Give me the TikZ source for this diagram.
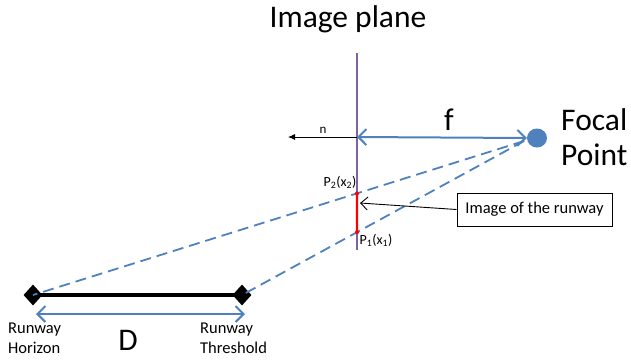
\documentclass[tikz,border=0pt]{standalone}
\usepackage{fontspec}
\setmainfont{Carlito}
\usetikzlibrary{arrows.meta,positioning,shapes.geometric}
\definecolor{offblue}{RGB}{79,129,189}
\definecolor{offpurple}{RGB}{128,100,162}

\begin{document}
\begin{tikzpicture}[x=1pt,y=-1pt,
  bigtext/.style={font=\fontsize{31.5}{35}\selectfont, inner sep=0pt},
  smalltext/.style={font=\fontsize{16.5}{20}\selectfont, align=left, inner sep=0pt},
  tinytext/.style={font=\fontsize{14}{16}\selectfont, inner sep=0pt},
  dimarrow/.style={offblue, line width=2pt, {Straight Barb[length=8pt,width=16pt]}-{Straight Barb[length=8pt,width=16pt]}},
  ray/.style={offblue, dash pattern=on 11pt off 6pt, line width=1.8pt},
  endmark/.style={diamond, fill=black, minimum width=19pt, minimum height=21pt, inner sep=0pt}]

\useasboundingbox (0,0) rectangle (631,360);

% draw image plane
\draw[offpurple, line width=1.6pt] (357,53) coordinate (ptop) -- (357,250) coordinate (pbot);
\node[bigtext] (plane) at (348,19) {Image plane};

% draw focal point and focal length
\node[ellipse, fill=offblue, minimum width=20pt, minimum height=19pt, inner sep=0pt] (focal) at (537,138) {};
\coordinate (fplane) at (357,137);
\coordinate (ray0) at (524,141);
\draw[dimarrow] (fplane) -- (focal.west);
\node[bigtext] (flabel) at (449,120) {f};
\node[bigtext, align=left, anchor=west] (focaltext) at (561,137) {Focal\\Point};

% draw normal
\draw[-{Latex[length=7pt,width=6pt]}, line width=0.9pt] (fplane) -- (288,137) coordinate (ntip);
\node[font=\fontsize{13}{15}\selectfont, inner sep=0pt] (nlabel) at (323,130) {n};

% draw runway
\node[endmark] (horizon) at (33,295) {};
\node[endmark] (threshold) at (242,295) {};
\draw[line width=4.5pt] (horizon.center) -- (threshold.center);

% draw rays through the image plane
\draw[ray] (ray0) -- (horizon.center);
\draw[ray] (ray0) -- (threshold.center);
\coordinate (p2) at (intersection of ray0--horizon and ptop--pbot);
\coordinate (p1) at (intersection of ray0--threshold and ptop--pbot);

% draw image of the runway
\draw[red, line width=2.2pt] (p2) -- (p1);
\fill[red] (p2) circle (2pt) (p1) circle (2pt);
\node[tinytext] (p2label) at (340,182) {P\textsubscript{2}(x\textsubscript{2})};
\node[tinytext] (p1label) at (376,240) {P\textsubscript{1}(x\textsubscript{1})};
\node[draw, line width=1pt, minimum width=155pt, minimum height=33pt, font=\fontsize{16.5}{20}\selectfont] (imgbox) at (534.5,209.5) {Image of the runway};
\coordinate (imgpt) at (360,203);
\draw[-{Straight Barb[length=7pt,width=13pt]}, line width=0.9pt] (imgbox.west) -- (imgpt);

% draw runway length
\draw[dimarrow] ([shift={(3,19)}]horizon.center) coordinate (dleft) -- ([shift={(3,19)}]threshold.center) coordinate (dright);
\node[bigtext] (dlabel) at (128,340) {D};
\node[smalltext, anchor=west] (horizontext) at (8,338) {Runway\\Horizon};
\node[smalltext, anchor=west] (thresholdtext) at (200,338) {Runway\\Threshold};

\end{tikzpicture}
\end{document}
